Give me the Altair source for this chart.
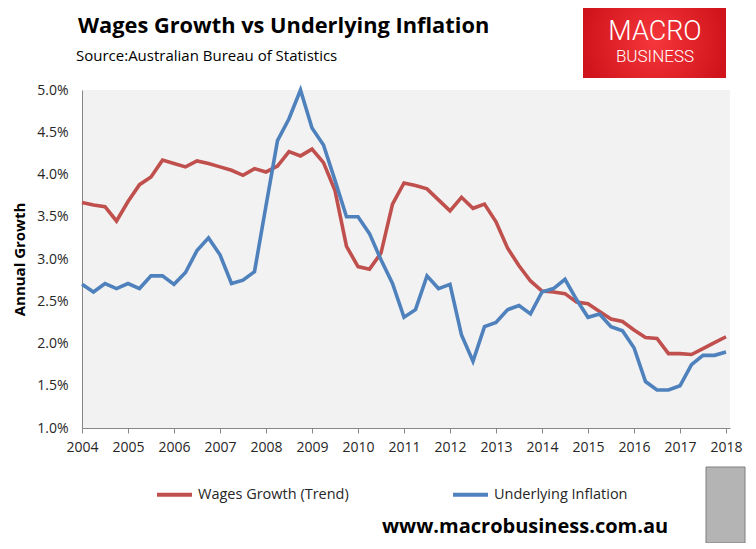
import altair as alt
import pandas as pd

# ---- data ----
quarters = [2004 + i / 4 for i in range(57)]
wages = [3.67, 3.64, 3.62, 3.45, 3.68, 3.88, 3.97, 4.17, 4.13, 4.09,
         4.16, 4.13, 4.09, 4.05, 3.99, 4.07, 4.03, 4.10, 4.27, 4.22,
         4.30, 4.14, 3.81, 3.15, 2.91, 2.88, 3.07, 3.65, 3.90, 3.87,
         3.83, 3.70, 3.57, 3.73, 3.60, 3.65, 3.44, 3.13, 2.92, 2.74,
         2.62, 2.61, 2.59, 2.49, 2.47, 2.38, 2.29, 2.26, 2.16, 2.07,
         2.06, 1.88, 1.88, 1.87, 1.94, 2.01, 2.08]
inflation = [2.70, 2.61, 2.71, 2.65, 2.71, 2.65, 2.80, 2.80, 2.70, 2.84,
             3.10, 3.25, 3.05, 2.71, 2.75, 2.85, 3.63, 4.40, 4.66, 5.00,
             4.55, 4.35, 3.93, 3.50, 3.50, 3.30, 2.99, 2.71, 2.31, 2.40,
             2.80, 2.65, 2.70, 2.10, 1.79, 2.20, 2.25, 2.40, 2.45, 2.35,
             2.61, 2.65, 2.76, 2.52, 2.31, 2.35, 2.20, 2.15, 1.95, 1.55,
             1.45, 1.45, 1.50, 1.75, 1.86, 1.86, 1.90]
series_names = ["Wages Growth (Trend)", "Underlying Inflation"]
series_colors = ["#C0504D", "#4F81BD"]
x_ticks = list(range(2004, 2019))
y_ticks = [1.0, 1.5, 2.0, 2.5, 3.0, 3.5, 4.0, 4.5, 5.0]

title_text = "Wages Growth vs Underlying Inflation"
source_text = "Source:Australian Bureau of Statistics"
url_text = "www.macrobusiness.com.au"

df = pd.DataFrame({
    "t": quarters + quarters,
    "v": wages + inflation,
    "s": [series_names[0]] * len(wages) + [series_names[1]] * len(inflation),
})

FONT = "Open Sans"
W, H = 648, 338
one = alt.Data(values=[{}])

lines = alt.Chart(df).mark_line(strokeWidth=3.6).encode(
    x=alt.X("t:Q",
            scale=alt.Scale(domain=[2004, 2018.087], nice=False, zero=False),
            axis=alt.Axis(values=x_ticks, format="d", title=None, grid=False,
                          domainColor="#868686", tickColor="#868686", tickSize=5,
                          labelFontSize=14, labelFont=FONT, labelColor="#262626",
                          labelPadding=7, labelFlush=False)),
    y=alt.Y("v:Q",
            scale=alt.Scale(domain=[1, 5], nice=False, zero=False),
            axis=alt.Axis(values=y_ticks,
                          labelExpr="format(datum.value, '.1f') + '%'",
                          title="Annual Growth", titleFont=FONT, titleFontSize=15,
                          titleFontWeight="bold", titleColor="#000000",
                          titleX=-63, titleY=H / 2, titleAngle=-90,
                          titleAlign="center", titleBaseline="middle",
                          ticks=False, grid=False, domainColor="#868686",
                          labelFontSize=14, labelFont=FONT, labelColor="#262626",
                          labelPadding=14)),
    color=alt.Color("s:N",
                    scale=alt.Scale(domain=series_names, range=series_colors),
                    sort=series_names,
                    legend=alt.Legend(title=None, orient="none", direction="horizontal",
                                      legendX=73, legendY=385,
                                      symbolType="stroke", symbolSize=1225,
                                      symbolStrokeWidth=4, labelFont=FONT,
                                      labelFontSize=14.5, labelColor="#262626",
                                      labelOffset=4, columnPadding=96,
                                      labelLimit=300)),
)

title = alt.Chart(one).mark_text(
    text=title_text, font=FONT, fontSize=21.8, fontWeight="bold",
    align="left", baseline="alphabetic", color="#000000"
).encode(x=alt.value(-4), y=alt.value(-57))

source = alt.Chart(one).mark_text(
    text=source_text, font=FONT, fontSize=15,
    align="left", baseline="alphabetic", color="#000000"
).encode(x=alt.value(-6), y=alt.value(-29))

logo = alt.Chart(one).mark_rect(
    fill={"gradient": "radial",
          "stops": [{"offset": 0, "color": "#F6373C"},
                    {"offset": 1, "color": "#D0141B"}]}
).encode(x=alt.value(501), x2=alt.value(644), y=alt.value(-86), y2=alt.value(-12))

logo1 = alt.Chart(one).mark_text(
    text="MACRO", font="Roboto", fontSize=27, fontWeight=300,
    align="center", baseline="alphabetic", color="#FFFFFF"
).encode(x=alt.value(573), y=alt.value(-50))

logo2 = alt.Chart(one).mark_text(
    text="BUSINESS", font="Roboto", fontSize=17, fontWeight=300,
    align="center", baseline="alphabetic", color="#FFFFFF"
).encode(x=alt.value(573), y=alt.value(-28.5))

url = alt.Chart(one).mark_text(
    text=url_text, font=FONT, fontSize=20, fontWeight="bold",
    align="left", baseline="middle", color="#000000"
).encode(x=alt.value(300), y=alt.value(437))

wolf = alt.Chart(one).mark_rect(
    fill="#B4B4B4", stroke="#7F7F7F", strokeWidth=1
).encode(x=alt.value(624), x2=alt.value(663), y=alt.value(377), y2=alt.value(453))

chart = alt.layer(lines, title, source, logo, logo1, logo2, url, wolf).properties(
    width=W, height=H,
    autosize=alt.AutoSizeParams(type="none"),
    padding={"left": 74, "top": 82, "right": 18, "bottom": 115},
    background="#FFFFFF",
).configure_view(fill="#F2F2F2", stroke=None)

chart.save("out.html", embed_options={"renderer": "svg", "actions": False})
